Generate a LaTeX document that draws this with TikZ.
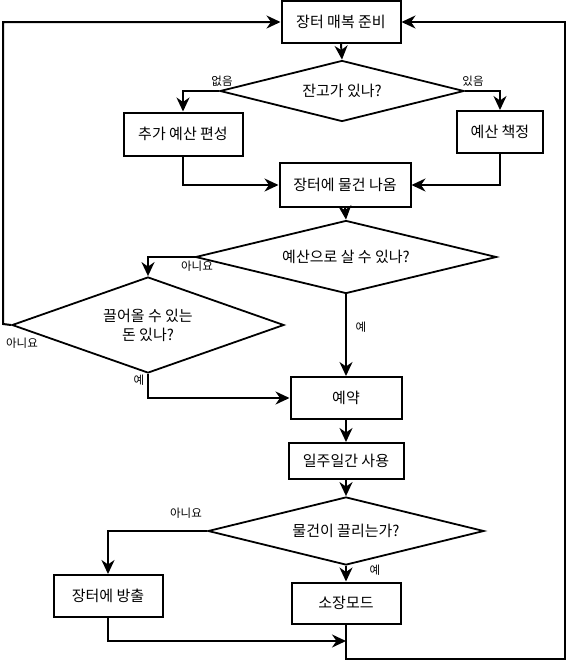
\documentclass[tikz,border=0pt]{standalone}
\usepackage{fontspec}
\setmainfont{Noto Sans CJK KR}
\usetikzlibrary{shapes.geometric,arrows.meta}
\begin{document}
\begin{tikzpicture}[x=1pt,y=-1pt,
  box/.style={draw,line width=2pt,inner sep=0pt,font=\fontsize{15}{19}\selectfont},
  dec/.style={draw,shape=diamond,line width=1.8pt,inner sep=0pt,align=center,font=\fontsize{15}{19}\selectfont},
  arr/.style={line width=2pt,-{Stealth[length=14pt,width=13pt,inset=4.5pt]}},
  lab/.style={inner sep=0pt,font=\fontsize{11.5}{13}\selectfont}]
\path[use as bounding box,fill=white] (0,0) rectangle (568,662);

\node[box,minimum width=119pt,minimum height=42pt] (prep) at (341,22) {장터 매복 준비};
\node[dec,minimum width=244pt,minimum height=61pt,aspect=4] (d1) at (342,91) {잔고가 있나?};
\node[box,minimum width=119pt,minimum height=43pt] (extra) at (183,134) {추가 예산 편성};
\node[box,minimum width=86pt,minimum height=42pt] (budget) at (500,132) {예산 책정};
\node[box,minimum width=131pt,minimum height=44pt] (goods) at (345,185) {장터에 물건 나옴};
\node[dec,minimum width=301pt,minimum height=73pt,aspect=4] (d2) at (346,257) {예산으로 살 수 있나?};
\node[dec,minimum width=272pt,minimum height=96pt,aspect=2.8] (d3) at (148,325) {끌어올 수 있는\\돈 있나?};
\node[box,minimum width=111pt,minimum height=42pt] (reserve) at (346,398) {예약};
\node[box,minimum width=115pt,minimum height=36pt] (use) at (346,461) {일주일간 사용};
\node[dec,minimum width=276pt,minimum height=68pt,aspect=4] (d4) at (346,531) {물건이 끌리는가?};
\node[box,minimum width=109pt,minimum height=42pt] (release) at (108,596) {장터에 방출};
\node[box,minimum width=109pt,minimum height=41pt] (keep) at (346,603) {소장모드};

\coordinate (merge) at (346,641);
\coordinate (br) at (565,659);
\coordinate (bl) at (3,324);

\draw[arr] (prep.south) -- (d1.north);
\draw[arr] (d1.west) -| (extra.north);
\draw[arr] (d1.east) -| (budget.north);
\draw[arr] (extra.south) |- (goods.west);
\draw[arr] (budget.south) |- (goods.east);
\draw[arr] (goods.south) -- (d2.north);
\draw[arr] (d2.west) -| (d3.north);
\draw[arr] (d2.south) -- (reserve.north);
\draw[arr] (d3.south) |- (reserve.west);
\draw[arr] (d3.west) -- (bl) |- (prep.west);
\draw[arr] (reserve.south) -- (use.north);
\draw[arr] (use.south) -- (d4.north);
\draw[arr] (d4.west) -| (release.north);
\draw[arr] (d4.south) -- (keep.north);
\draw[arr] (release.south) |- (merge);
\draw[arr] (keep.south) |- (br) |- (prep.east);

\node[lab] (l1) at (222,81) {없음};
\node[lab] (l2) at (473,81) {있음};
\node[lab] (l3) at (197,266) {아니요};
\node[lab] (l4) at (361,327) {예};
\node[lab] (l5) at (22,343) {아니요};
\node[lab] (l6) at (139,380) {예};
\node[lab] (l7) at (186,513) {아니요};
\node[lab] (l8) at (375,570) {예};
\end{tikzpicture}
\end{document}
